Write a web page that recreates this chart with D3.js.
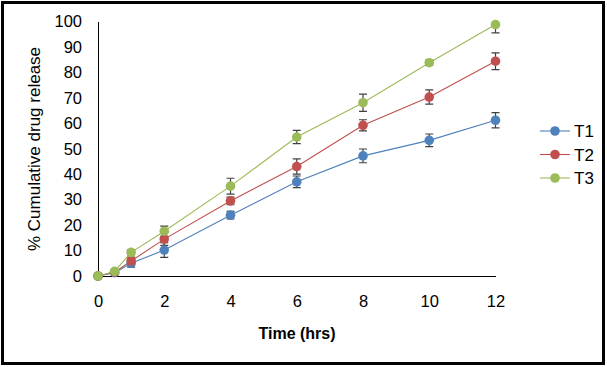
<!DOCTYPE html>
<html><head><meta charset="utf-8">
<script src="https://cdnjs.cloudflare.com/ajax/libs/d3/7.8.5/d3.min.js"></script>
<style>html,body{margin:0;padding:0;background:#fff;}svg{display:block;font-family:Arial,"Liberation Sans",sans-serif;}</style>
</head><body><svg id="c" width="607" height="367"></svg>
<script>
const times = [0, 0.5, 1, 2, 4, 6, 8, 10, 12];
const seriesNames = ["T1", "T2", "T3"];
const t1 = [0, 1.3, 5.0, 10.2, 23.9, 37.0, 47.2, 53.3, 61.2];
const t1Err = [0, 0, 1.5, 2.9, 1.5, 2.3, 2.7, 2.5, 3.0];
const t2 = [0, 1.5, 5.9, 14.5, 29.5, 43.0, 59.2, 70.3, 84.4];
const t2Err = [0, 0, 1.5, 2.5, 1.5, 3.0, 2.2, 2.8, 3.3];
const t3 = [0, 1.8, 9.3, 17.6, 35.3, 54.6, 68.1, 83.8, 98.8];
const t3Err = [0, 0, 1.0, 2.0, 3.1, 2.6, 3.4, 1.0, 3.3];
const xTicks = [0, 2, 4, 6, 8, 10, 12];
const yTicks = [0, 10, 20, 30, 40, 50, 60, 70, 80, 90, 100];
const colors = ["#4F81BD", "#C0504D", "#9BBB59"];

const svg = d3.select("#c");
const x = d3.scaleLinear().domain([0, 12]).range([98, 495.5]);
const y = d3.scaleLinear().domain([0, 100]).range([276, 21.5]);

// outer border
svg.append("rect").attr("x", 2.5).attr("y", 2.5).attr("width", 601).attr("height", 361)
  .attr("fill", "none").attr("stroke", "#000").attr("stroke-width", 3);

svg.append("defs").append("clipPath").attr("id", "plot")
  .append("rect").attr("x", 60).attr("y", y(100)).attr("width", 480).attr("height", 300);

// axes
const yAxis = d3.axisLeft(y).tickValues(yTicks).tickSize(0).tickPadding(16);
const gy = svg.append("g").attr("transform", `translate(${x(0)},0)`).call(yAxis);
gy.select(".domain").attr("stroke", "#000").attr("shape-rendering", "crispEdges");
gy.selectAll("text").attr("font-size", 16.5).attr("fill", "#000").attr("font-family", "Arial, 'Liberation Sans', sans-serif");

const xAxis = d3.axisBottom(x).tickValues(xTicks).tickSize(0).tickPadding(19);
const gx = svg.append("g").attr("transform", `translate(0,${y(0)})`).call(xAxis);
gx.select(".domain").attr("stroke", "#000").attr("shape-rendering", "crispEdges");
gx.selectAll("text").attr("font-size", 16.5).attr("fill", "#000").attr("font-family", "Arial, 'Liberation Sans', sans-serif");

// axis titles
svg.append("text").attr("x", 297).attr("y", 339).attr("text-anchor", "middle")
  .attr("font-size", 16).attr("font-weight", "bold").text("Time (hrs)");
svg.append("text").attr("transform", "translate(40,149) rotate(-90)").attr("text-anchor", "middle")
  .attr("font-size", 17).text("% Cumulative drug release");

const data = [[t1, t1Err], [t2, t2Err], [t3, t3Err]];
const line = d3.line().x(d => x(d.t)).y(d => y(d.v));
const plot = svg.append("g").attr("clip-path", "url(#plot)");
data.forEach(([vals, errs], i) => {
  const pts = times.map((t, k) => ({t, v: vals[k], e: errs[k]}));
  plot.append("path").datum(pts).attr("d", line).attr("fill", "none")
    .attr("stroke", colors[i]).attr("stroke-width", 1.1);
  const eb = plot.append("g").attr("stroke", "#404040").attr("stroke-width", 1.2);
  pts.filter(p => p.e > 0).forEach(p => {
    eb.append("line").attr("x1", x(p.t)).attr("x2", x(p.t)).attr("y1", y(p.v - p.e)).attr("y2", y(p.v + p.e));
    [p.v - p.e, p.v + p.e].forEach(v => {
      if (v <= 100) eb.append("line").attr("x1", x(p.t) - 4).attr("x2", x(p.t) + 4).attr("y1", y(v)).attr("y2", y(v));
    });
  });
  svg.append("g").selectAll("circle").data(pts).join("circle")
    .attr("cx", d => x(d.t)).attr("cy", d => y(d.v)).attr("r", 4.8).attr("fill", colors[i]);
});

// legend
const lg = svg.append("g");
seriesNames.forEach((n, i) => {
  const yy = 131 + i * 23.5;
  lg.append("line").attr("x1", 540).attr("x2", 570).attr("y1", yy).attr("y2", yy)
    .attr("stroke", colors[i]).attr("stroke-width", 1.1);
  lg.append("circle").attr("cx", 555).attr("cy", yy).attr("r", 4.8).attr("fill", colors[i]);
  lg.append("text").attr("x", 574).attr("y", yy + 6).attr("font-size", 17).text(n);
});
</script></body></html>
